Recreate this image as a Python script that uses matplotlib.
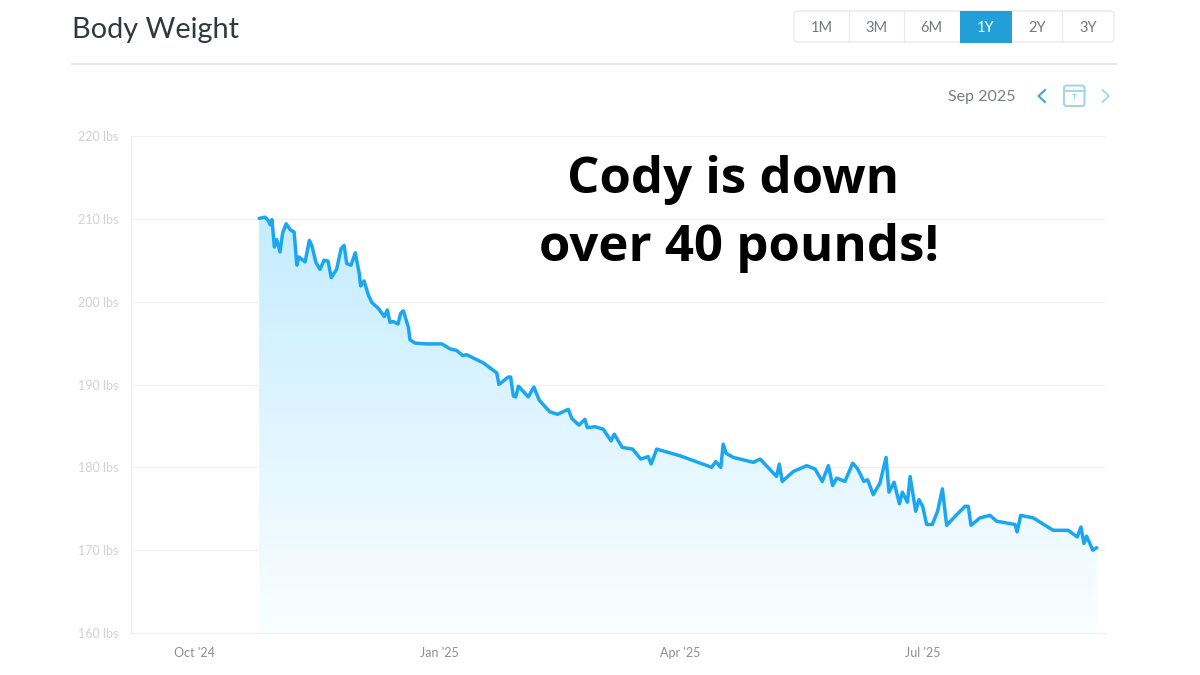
import numpy as np
import matplotlib
matplotlib.use('Agg')
import matplotlib.pyplot as plt
from matplotlib.patches import FancyBboxPatch, Rectangle, Polygon

plt.rcParams['font.family'] = ['Lato', 'DejaVu Sans']

# days since 1 Oct 2024, weight in lbs
days = [24.4, 26.6, 27.8, 28.5, 29.2, 30.1, 31.0, 32.2, 33.2, 34.5, 36.0, 37.5, 38.5, 39.3, 41.6,
        43.2, 44.1, 45.7, 47.2, 48.7, 50.2, 51.4, 53.4, 55.1, 56.2, 57.2, 58.8, 60.4, 61.9, 62.4,
        63.7, 65.3, 66.6, 69.0, 71.3, 72.4, 73.4, 74.6, 76.4, 77.4, 78.4, 80.3, 80.9, 82.8, 87.2,
        92.8, 95.9, 98.4, 100.6, 102.1, 108.4, 113.4, 114.2, 117.7, 118.6, 119.6, 120.5, 121.5,
        125.2, 127.3, 129.3, 133.3, 136.1, 140.2, 141.5, 144.2, 146.4, 147.3, 150.2, 153.3, 156.2,
        157.4, 160.4, 164.3, 167.3, 170.1, 171.2, 173.3, 182.0, 193.9, 195.4, 197.3, 198.2, 199.3,
        202.0, 209.5, 212.0, 218.2, 219.2, 220.3, 224.5, 229.5, 232.6, 235.3, 237.6, 239.2, 240.7,
        243.8, 246.7, 248.4, 250.9, 252.3, 254.4, 256.9, 259.2, 260.3, 262.2, 264.2, 265.3, 267.2,
        268.2, 270.3, 271.5, 272.9, 274.4, 276.5, 278.5, 280.3, 281.9, 285.7, 288.8, 290.0, 291.0,
        294.4, 298.1, 300.6, 307.5, 308.3, 309.6, 314.3, 321.8, 327.4, 330.8, 332.2, 333.3, 334.3,
        336.6, 338.1]
weight = [210.06, 210.2, 209.8, 209.3, 209.9, 206.6, 207.5, 206.0, 208.3, 209.4, 208.7, 208.4, 204.4, 205.4, 204.8,
          207.4, 206.8, 204.7, 203.9, 205.0, 204.9, 202.9, 203.9, 206.4, 206.8, 204.6, 204.4, 205.9, 203.4, 201.9,
          202.5, 200.8, 199.9, 199.2, 198.2, 199.0, 197.5, 197.6, 197.3, 198.6, 198.9, 196.9, 195.4, 195.0, 194.9,
          194.9, 194.3, 194.1, 193.5, 193.6, 192.6, 191.4, 190.0, 190.9, 190.9, 188.6, 188.5, 189.8,
          188.5, 189.7, 188.1, 186.7, 186.4, 187.0, 185.9, 185.1, 185.8, 184.8, 184.9, 184.6, 183.2,
          184.0, 182.4, 182.2, 181.0, 181.3, 180.4, 182.2, 181.4, 180.0, 180.7, 180.0, 182.8, 181.7,
          181.2, 180.6, 181.0, 178.9, 180.4, 178.3, 179.5, 180.2, 179.8, 178.3, 180.2, 177.8, 178.7,
          178.3, 180.5, 179.9, 178.3, 178.5, 176.7, 178.1, 181.2, 177.0, 178.2, 175.6, 177.0, 175.8,
          178.9, 174.7, 176.1, 175.3, 173.1, 173.1, 174.7, 177.4, 173.0, 174.3, 175.3, 175.3, 173.0,
          173.9, 174.2, 173.5, 173.1, 172.2, 174.2, 173.9, 172.4, 172.4, 171.6, 172.8, 170.8, 171.7,
          170.0, 170.3]

y_ticks = [160, 170, 180, 190, 200, 210, 220]
y_labels = ['160 lbs', '170 lbs', '180 lbs', '190 lbs', '200 lbs', '210 lbs', '220 lbs']
x_ticks = [0, 92, 182, 273]
x_labels = ["Oct '24", "Jan '25", "Apr '25", "Jul '25"]
ranges = ['1M', '3M', '6M', '1Y', '2Y', '3Y']
range_edges = [794, 849, 904, 959.5, 1012, 1062, 1114]

W, H = 1200, 675
fig = plt.figure(figsize=(12, 6.75), dpi=100)

# full figure overlay in pixels, for the page furniture
bg = fig.add_axes([0, 0, 1, 1])
bg.set_xlim(0, W)
bg.set_ylim(H, 0)
bg.axis('off')

bg.text(72, 30, 'Body Weight', fontsize=20.8, color='#33383c', va='center', ha='left')
bg.plot([72, 1116], [63.5, 63.5], color='#dfe1e3', lw=1.1)

bg.add_patch(FancyBboxPatch((794, 11), 320, 31, boxstyle='round,pad=0,rounding_size=4',
                            fc='white', ec='#e6e8ea', lw=0.9))
for i, name in enumerate(ranges):
    x0, x1 = range_edges[i], range_edges[i + 1]
    active = name == '1Y'
    if active:
        bg.add_patch(Rectangle((x0, 11), x1 - x0, 32, fc='#219fd6', ec='none', zorder=3))
    elif i > 0 and ranges[i - 1] != '1Y':
        bg.plot([x0, x0], [11, 42], color='#e9ebec', lw=0.8)
    bg.text((x0 + x1) / 2, 28, name, fontsize=10.5, ha='center', va='center', zorder=4,
            color='white' if active else '#73787c')

bg.text(1016, 97, 'Sep 2025', fontsize=11.5, color='#787d81', ha='right', va='center')
bg.plot([1045, 1038.5, 1045], [90, 96, 102], color='#3fa4d8', lw=1.5)
bg.plot([1102.5, 1109, 1102.5], [90, 96, 102], color='#a5d5ee', lw=1.3)
bg.add_patch(FancyBboxPatch((1064, 85.5), 20.5, 20.5, boxstyle='round,pad=0,rounding_size=2.5',
                            fc='white', ec='#9fd2ec', lw=1.4))
bg.plot([1064, 1084.5], [90.5, 90.5], color='#9fd2ec', lw=1.3)
bg.text(1074.3, 97.5, 'T', fontsize=6, color='#8cc8e8', ha='center', va='center')

# chart, placed so the axes box sits on the same pixels as the reference
ax = fig.add_axes([131 / W, 1 - 633 / H, (1105 - 131) / W, (633 - 136) / H])
ax.patch.set_alpha(0)

for s in ['top', 'right']:
    ax.spines[s].set_visible(False)
for s in ['left', 'bottom']:
    ax.spines[s].set_color('#eceded')
    ax.spines[s].set_linewidth(0.8)

ax.set_yticks(y_ticks)
ax.set_yticklabels(y_labels)
ax.set_xticks(x_ticks)
ax.set_xticklabels(x_labels)
ax.tick_params(axis='y', length=0, pad=9, labelsize=9, labelcolor='#cfd1d3')
ax.tick_params(axis='x', length=0, pad=10, labelsize=9, labelcolor='#8b8f93')
ax.grid(axis='y', color='#eff0f1', lw=0.8)
ax.set_axisbelow(True)

# gradient fill under the curve
grad = np.linspace(0, 1, 256).reshape(-1, 1)
cols = np.ones((256, 1, 4))
top = np.array([196, 236, 255]) / 255
bot = np.array([251, 254, 255]) / 255
cols[:, 0, :3] = top + (bot - top) * grad
im = ax.imshow(cols, extent=[days[0], days[-1], 160, 210.2], aspect='auto', origin='upper', zorder=1)
poly = Polygon(np.column_stack([[days[0]] + days + [days[-1]], [160] + weight + [160]]),
               transform=ax.transData, fc='none', ec='none')
ax.add_patch(poly)
im.set_clip_path(poly)
ax.set_xlim(-23.6, 341.2)
ax.set_ylim(160, 220)

ax.plot(days, weight, color='#1aa7f0', lw=2.5, solid_joinstyle='round', solid_capstyle='round', zorder=3)

# big overlay caption
top_ax = fig.add_axes([0, 0, 1, 1])
top_ax.set_xlim(0, W)
top_ax.set_ylim(H, 0)
top_ax.axis('off')
for txt, xc, yc in [('Cody is down', 733, 180), ('over 40 pounds!', 739, 248)]:
    top_ax.text(xc, yc, txt, fontsize=36.6, fontweight='bold', family=['Open Sans', 'DejaVu Sans'],
                color='black', ha='center', va='center')

fig.savefig('out.png', dpi=100)
